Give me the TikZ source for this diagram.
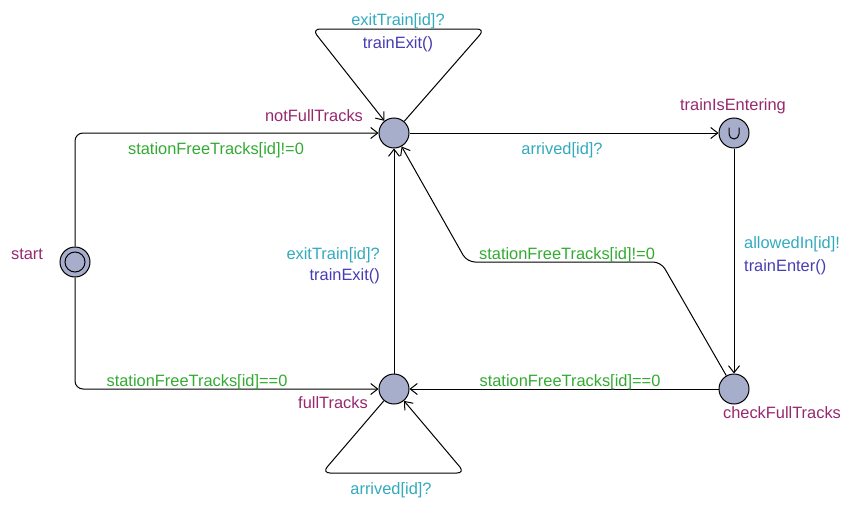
\documentclass[tikz,border=0pt]{standalone}
\usepackage{fontspec}
\setmainfont{Liberation Sans}
\usetikzlibrary{arrows.meta}
\definecolor{locname}{RGB}{150,40,110}
\definecolor{guardc}{RGB}{50,170,50}
\definecolor{syncc}{RGB}{50,170,190}
\definecolor{updc}{RGB}{70,60,180}
\definecolor{locfill}{RGB}{166,174,204}
\begin{document}
\begin{tikzpicture}[x=1pt,y=-1pt,font=\fontsize{16.4}{18}\selectfont,
  loc/.style={circle,draw,fill=locfill,minimum size=30pt,inner sep=0pt,line width=1pt},
  inner/.style={circle,draw,minimum size=20pt,inner sep=0pt,line width=1pt},
  edge/.style={draw,line width=1pt,-{Straight Barb[length=7pt,width=11pt]},rounded corners=8pt},
  lbl/.style={inner sep=0pt,text height=11.5pt,text depth=0pt},
  lname/.style={lbl,text=locname},
  guard/.style={lbl,text=guardc},
  sync/.style={lbl,text=syncc},
  upd/.style={lbl,text=updc}]
\useasboundingbox (0,0) rectangle (849,506);
% locations
\node[loc] (S) at (75,262) {};
\node[inner] (Si) at (75,262) {};
\node[loc] (N) at (394,133) {};
\node[loc] (T) at (734,133) {};
\node[loc] (F) at (394,389) {};
\node[loc] (C) at (734,389) {};
\draw[line width=1pt] (729,127.5) -- (729,134) arc[start angle=180,end angle=0,radius=5] -- (739,127.5);
% nails
\coordinate (tl) at (312,29);
\coordinate (tr) at (485,29);
\coordinate (bl) at (322,473);
\coordinate (br) at (465,473);
\coordinate (ml) at (467,262);
\coordinate (mr) at (661,262);
% edges
\draw[edge] (S) |- (N);
\draw[edge] (S) |- (F);
\draw[edge] (N) -- (T);
\draw[edge] (T) -- (C);
\draw[edge] (C) -- (F);
\draw[edge] (F) -- (N);
\draw[edge] (C) -- (mr) -- (ml) -- (N);
\draw[edge] (N) -- (tr) -- (tl) -- (N);
\draw[edge] (F) -- (bl) -- (br) -- (F);
% location names
\node[lname] (nS) at (27,254) {start};
\node[lname] (nN) at (314,116) {notFullTracks};
\node[lname] (nT) at (733,105) {trainIsEntering};
\node[lname] (nF) at (333,403) {fullTracks};
\node[lname] (nC) at (782,413) {checkFullTracks};
% guards
\node[guard] (g1) at (216,149) {stationFreeTracks[id]!=0};
\node[guard] (g2) at (197,381) {stationFreeTracks[id]==0};
\node[guard] (g3) at (567,254) {stationFreeTracks[id]!=0};
\node[guard] (g4) at (570,381) {stationFreeTracks[id]==0};
% syncs
\node[sync] (s1) at (398,20) {exitTrain[id]?};
\node[sync] (s2) at (562,149) {arrived[id]?};
\node[sync,anchor=west] (s3) at (744,243) {allowedIn[id]!};
\node[sync,anchor=east] (s4) at (380,254) {exitTrain[id]?};
\node[sync] (s5) at (391,489) {arrived[id]?};
% updates
\node[upd] (u1) at (398,43) {trainExit()};
\node[upd,anchor=west] (u2) at (744,266) {trainEnter()};
\node[upd,anchor=east] (u3) at (380,275) {trainExit()};
\end{tikzpicture}
\end{document}
